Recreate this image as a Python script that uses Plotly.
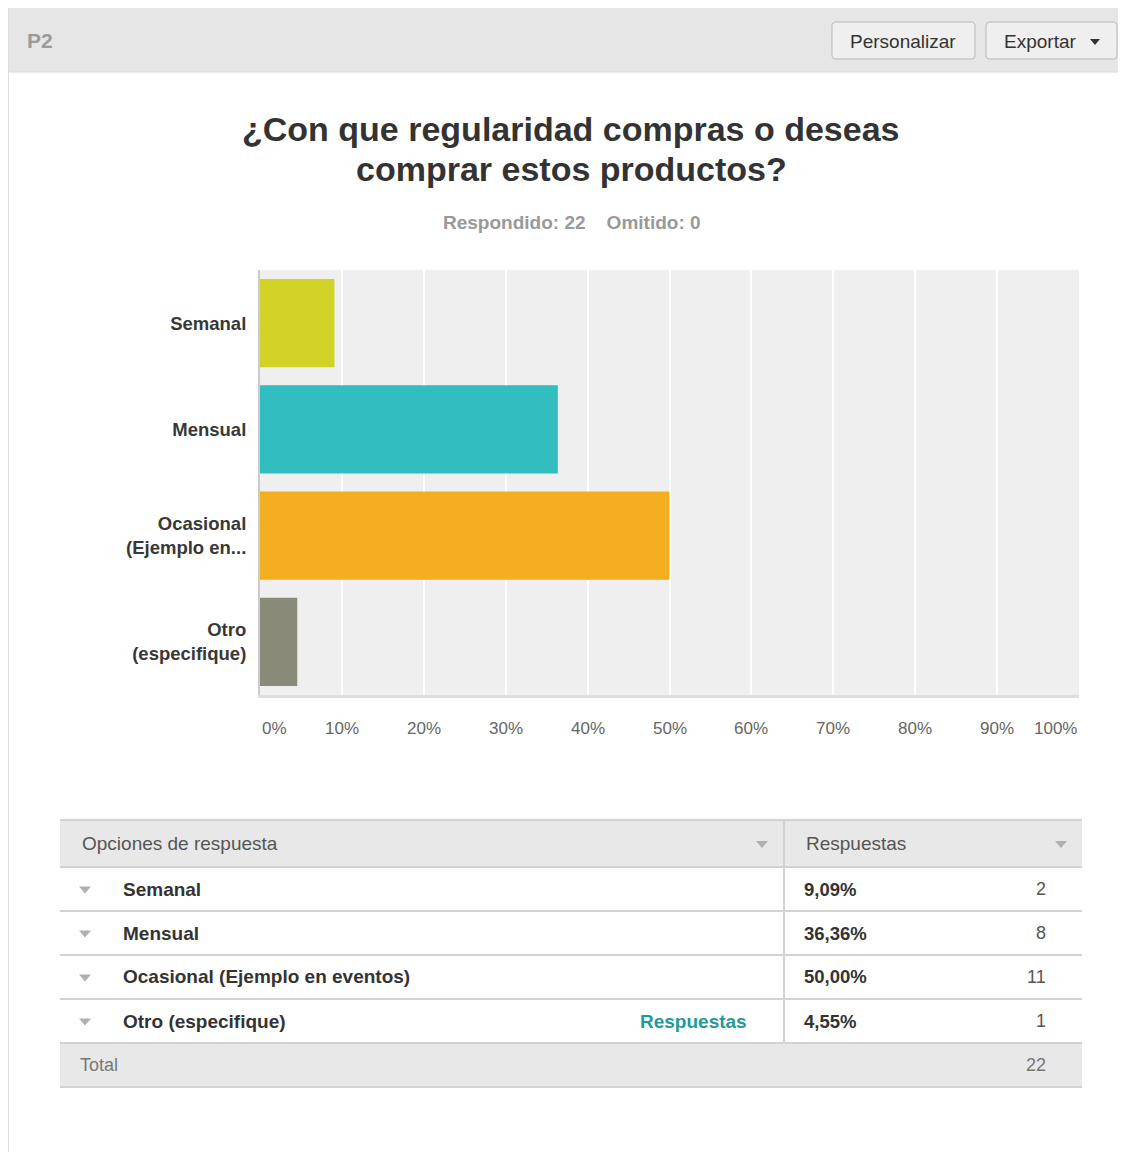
import plotly.graph_objects as go

# la pagina deja 8px de margen, asi que la figura empieza en (8, 8)
OFF = 8
W, H = 1126 - OFF, 1152 - OFF
FONT = "Liberation Sans, Arial, sans-serif"

# datos
pregunta = "P2"
titulo = ["¿Con que regularidad compras o deseas", "comprar estos productos?"]
respondido = 22
omitido = 0
categorias = ["Semanal", "Mensual", "Ocasional (Ejemplo en eventos)", "Otro (especifique)"]
etiquetas_eje = ["Semanal", "Mensual", "Ocasional<br>(Ejemplo en...", "Otro<br>(especifique)"]
porcentajes = [9.09, 36.36, 50.00, 4.55]
respuestas = [2, 8, 11, 1]
total = 22
colores = ["#d0d326", "#32bdc0", "#f5ae1f", "#8a8a78"]
ticks_x = [0, 10, 20, 30, 40, 50, 60, 70, 80, 90, 100]


def fx(px):
    return (px - OFF) / W


def fy(py):
    return 1 - (py - OFF) / H


def rrect(x0, y0, x1, y1, r):
    pts = [
        ("M", x0 + r, y0), ("L", x1 - r, y0), ("Q", x1, y0, x1, y0 + r),
        ("L", x1, y1 - r), ("Q", x1, y1, x1 - r, y1), ("L", x0 + r, y1),
        ("Q", x0, y1, x0, y1 - r), ("L", x0, y0 + r), ("Q", x0, y0, x0 + r, y0),
    ]
    s = ""
    for p in pts:
        coords = p[1:]
        parts = []
        for i in range(0, len(coords), 2):
            parts.append(f"{fx(coords[i]):.5f},{fy(coords[i+1]):.5f}")
        s += p[0] + " " + " ".join(parts) + " "
    return s + "Z"


def triangulo(cx, cy, color="#b0b0b0", w=6, h=3.5):
    path = (f"M {fx(cx-w):.5f},{fy(cy-h):.5f} L {fx(cx+w):.5f},{fy(cy-h):.5f} "
            f"L {fx(cx):.5f},{fy(cy+h):.5f} Z")
    return dict(type="path", xref="paper", yref="paper", path=path,
                fillcolor=color, line=dict(width=0))


def texto(x, y, t, size, color, anchor="left", bold=False):
    if bold:
        t = "<b>" + t + "</b>"
    return dict(x=fx(x), y=fy(y), xref="paper", yref="paper", text=t,
                showarrow=False, xanchor=anchor, yanchor="middle",
                font=dict(size=size, color=color, family=FONT))


fig = go.Figure()
fig.add_trace(go.Bar(
    x=porcentajes, y=etiquetas_eje, orientation="h",
    marker=dict(color=colores, line=dict(width=0)),
    hoverinfo="skip",
))

shapes = []
ann = []

# cabecera
shapes.append(dict(type="rect", xref="paper", yref="paper", x0=fx(8), x1=fx(1126),
                   y0=fy(72), y1=fy(8), fillcolor="#e6e6e6", line=dict(width=0), layer="below"))
shapes.append(dict(type="line", xref="paper", yref="paper", x0=fx(8), x1=fx(1126),
                   y0=fy(72), y1=fy(72), line=dict(color="#dcdcdc", width=1)))
shapes.append(dict(type="line", xref="paper", yref="paper", x0=fx(8.5), x1=fx(8.5),
                   y0=fy(8), y1=0, line=dict(color="#dddddd", width=1)))
ann.append(texto(25, 40, pregunta, 21, "#9a9a9a", bold=True))

for (bx0, bx1, txt) in [(832, 975, "Personalizar"), (986, 1117, "Exportar")]:
    shapes.append(dict(type="path", xref="paper", yref="paper", path=rrect(bx0, 22, bx1, 59, 4),
                       fillcolor="#efefef", line=dict(color="#b8b8b8", width=1)))
    if txt == "Exportar":
        ann.append(texto(1002, 41, txt, 19, "#333333"))
        shapes.append(triangulo(1095, 42, "#333333", w=5, h=3))
    else:
        ann.append(texto((bx0 + bx1) / 2, 41, txt, 19, "#333333", anchor="center"))

# titulo
ann.append(texto(571, 129, titulo[0], 34, "#333333", anchor="center", bold=True))
ann.append(texto(571, 169, titulo[1], 34, "#333333", anchor="center", bold=True))
ann.append(texto(572, 223, f"Respondido: {respondido}&nbsp;&nbsp;&nbsp;&nbsp;Omitido: {omitido}",
                 19, "#999999", anchor="center", bold=True))

# etiquetas eje x
for t in ticks_x:
    xa = "left" if t == 0 else ("right" if t == 100 else "center")
    ann.append(dict(x=t, y=fy(728), xref="x", yref="paper", text=f"{t}%",
                    showarrow=False, xanchor=xa, yanchor="middle",
                    font=dict(size=17, color="#666666", family=FONT)))

# tabla
tx0, tx1, tdiv = 60, 1082, 784
h_top, h_bot = 820, 867
rh = 44
shapes.append(dict(type="rect", xref="paper", yref="paper", x0=fx(tx0), x1=fx(tx1),
                   y0=fy(h_bot), y1=fy(h_top), fillcolor="#e8e8e8", line=dict(width=0)))
tot_top = h_bot + rh * len(categorias)
shapes.append(dict(type="rect", xref="paper", yref="paper", x0=fx(tx0), x1=fx(tx1),
                   y0=fy(tot_top + rh), y1=fy(tot_top), fillcolor="#e8e8e8", line=dict(width=0)))
for yy in [h_top, h_bot] + [h_bot + rh * (i + 1) for i in range(len(categorias))] + [tot_top + rh]:
    shapes.append(dict(type="line", xref="paper", yref="paper", x0=fx(tx0), x1=fx(tx1),
                       y0=fy(yy), y1=fy(yy), line=dict(color="#d2d2d2", width=2)))
shapes.append(dict(type="line", xref="paper", yref="paper", x0=fx(tdiv), x1=fx(tdiv),
                   y0=fy(h_top), y1=fy(tot_top), line=dict(color="#d2d2d2", width=2)))

hc = (h_top + h_bot) / 2
ann.append(texto(80, hc, "Opciones de respuesta", 19, "#555555"))
ann.append(texto(804, hc, "Respuestas", 19, "#555555"))
shapes.append(triangulo(762, hc + 1))
shapes.append(triangulo(1061, hc + 1))

for i, (cat, p, n) in enumerate(zip(categorias, porcentajes, respuestas)):
    cy = h_bot + rh * i + rh / 2
    shapes.append(triangulo(85, cy + 1))
    ann.append(texto(121, cy, cat, 19, "#333333", bold=True))
    ann.append(texto(802, cy, f"{p:.2f}".replace(".", ",") + "%", 18.5, "#333333", bold=True))
    ann.append(texto(1048, cy, str(n), 18, "#555555", anchor="right"))
    if cat.startswith("Otro"):
        ann.append(texto(749, cy, "Respuestas", 19, "#1f9a9c", anchor="right", bold=True))

tc = tot_top + rh / 2
ann.append(texto(78, tc, "Total", 18, "#777777"))
ann.append(texto(1048, tc, str(total), 18, "#777777", anchor="right"))

fig.update_layout(
    width=W, height=H,
    margin=dict(l=0, r=0, t=0, b=0),
    paper_bgcolor="white",
    plot_bgcolor="#efefef",
    showlegend=False,
    bargap=0.17,
    shapes=shapes,
    annotations=ann,
    font=dict(family=FONT),
    xaxis=dict(
        domain=[fx(260), fx(1079)], range=[0, 100], tickvals=ticks_x,
        showticklabels=False, showgrid=True, gridcolor="white", gridwidth=2,
        zeroline=False, showline=True, linecolor="#dddddd", linewidth=3,
        fixedrange=True,
    ),
    yaxis=dict(
        domain=[fy(695), fy(270)], autorange="reversed",
        categoryorder="array", categoryarray=etiquetas_eje,
        showgrid=False, zeroline=False, showline=True, linecolor="#cccccc", linewidth=2,
        ticks="", ticklabelstandoff=8,
        tickfont=dict(size=18.5, color="#383838", family=FONT),
        automargin=False, fixedrange=True,
    ),
)
fig.for_each_yaxis(lambda a: a.update(ticktext=["<b>" + e + "</b>" for e in etiquetas_eje],
                                      tickvals=etiquetas_eje))

fig.write_html("out.html", config={"displayModeBar": False})
